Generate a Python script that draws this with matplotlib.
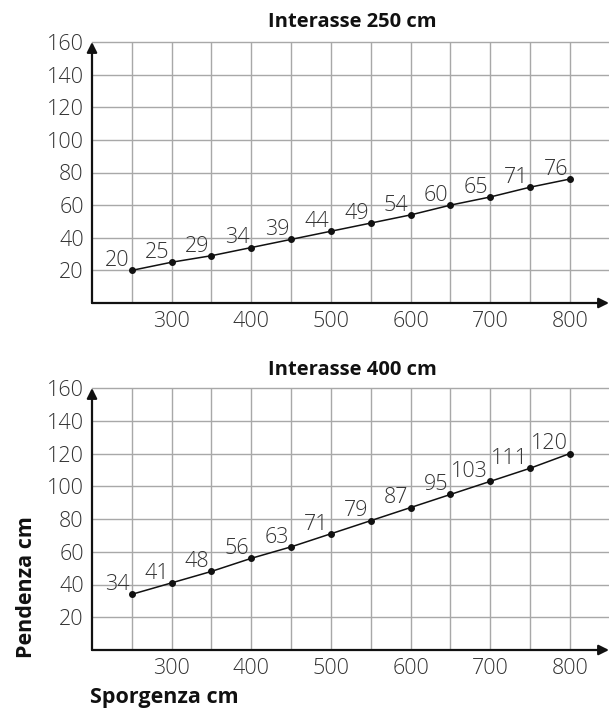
import numpy as np
import matplotlib
matplotlib.use('Agg')
import matplotlib.pyplot as plt

plt.rcParams['font.family'] = ['Open Sans', 'DejaVu Sans']

# data: sporgenza (cm) vs pendenza (cm) for two interasse values
sporgenza = [250, 300, 350, 400, 450, 500, 550, 600, 650, 700, 750, 800]
pend_250 = [20, 25, 29, 34, 39, 44, 49, 54, 60, 65, 71, 76]
pend_400 = [34, 41, 48, 56, 63, 71, 79, 87, 95, 103, 111, 120]
titles = ['Interasse 250 cm', 'Interasse 400 cm']
x_major = [300, 400, 500, 600, 700, 800]
x_minor = [250, 350, 450, 550, 650, 750]
y_ticks = [20, 40, 60, 80, 100, 120, 140, 160]

W, H = 609, 713
fig = plt.figure(figsize=(W / 100, H / 100), dpi=100)

# axes rectangles in pixels: left, y of x-axis, y of top (160)
rects = [(92, 303, 42), (92, 650, 388)]
series = [pend_250, pend_400]
title_y = [22, 370]

txt_col = '#333333'
for (left, ybot, ytop), vals, title, ty in zip(rects, series, titles, title_y):
    ax = fig.add_axes([left / W, (H - ybot) / H, (W - left) / W,
                       (ybot - ytop) / H])
    ax.set_xlim(200, 849)
    ax.set_ylim(0, 160)
    for s in ax.spines.values():
        s.set_visible(False)

    # grid
    for xv in x_major + x_minor:
        ax.plot([xv, xv], [0, 160], color='#a8a8a8', lw=1.0, zorder=1)
    for yv in y_ticks:
        ax.plot([200, 849], [yv, yv], color='#a8a8a8', lw=1.0, zorder=1,
                clip_on=False)

    # axes with arrows
    ax.annotate('', xy=(1.0, 0), xytext=(0, 0), xycoords='axes fraction',
                arrowprops=dict(arrowstyle='-|>', color='#111111', lw=1.6,
                                mutation_scale=15, shrinkA=0, shrinkB=0),
                zorder=3)
    ax.annotate('', xy=(0, 1.0), xytext=(0, 0), xycoords='axes fraction',
                arrowprops=dict(arrowstyle='-|>', color='#111111', lw=1.6,
                                mutation_scale=15, shrinkA=0, shrinkB=0),
                zorder=3)

    ax.plot(sporgenza, vals, color='#111111', lw=1.1, marker='o', ms=4,
            zorder=4)
    for xv, yv in zip(sporgenza, vals):
        ax.annotate(str(yv), (xv, yv), xytext=(-1.5, 3),
                    textcoords='offset points', ha='right', va='baseline',
                    fontsize=15.5, color=txt_col, fontweight='light')

    ax.set_xticks(x_major)
    ax.set_yticks(y_ticks)
    ax.tick_params(length=0, labelsize=15.5, labelcolor=txt_col)
    ax.tick_params(axis='x', pad=6)
    ax.tick_params(axis='y', pad=6)
    for lab in ax.get_xticklabels() + ax.get_yticklabels():
        lab.set_fontweight('light')

    fig.text(352 / W, 1 - ty / H, title, ha='center', va='center',
             fontsize=14.5, fontweight='bold', color='#111111')

fig.text(27 / W, 1 - 587 / H, 'Pendenza cm', rotation=90, ha='center',
         va='center', fontsize=15.5, fontweight='bold', color='#111111')
fig.text(90 / W, 1 - 698 / H, 'Sporgenza cm', ha='left', va='center',
         fontsize=15.5, fontweight='bold', color='#111111')

fig.savefig('out.png', dpi=100)
